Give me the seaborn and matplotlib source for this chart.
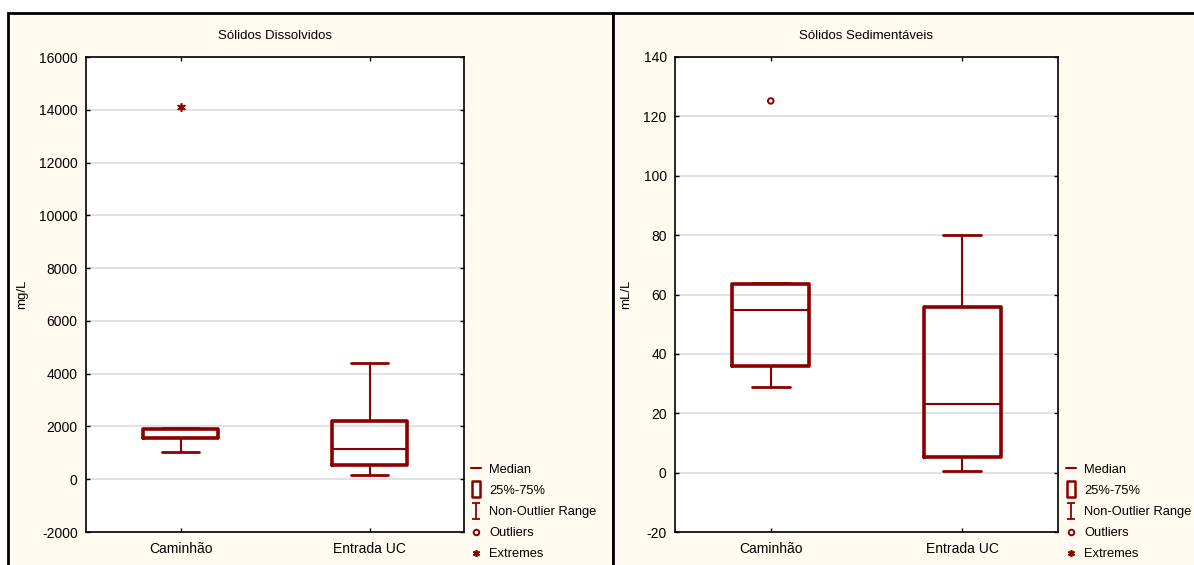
import matplotlib
matplotlib.use("Agg")
import matplotlib.pyplot as plt
import seaborn as sns
from matplotlib.lines import Line2D
from matplotlib.patches import Rectangle
from matplotlib.path import Path

# categorias e estatisticas
grupos = ["Caminhão", "Entrada UC"]

# Sólidos Dissolvidos (mg/L)
sd_min = [1020, 150]
sd_q1 = [1560, 550]
sd_med = [1560, 1130]
sd_q3 = [1900, 2200]
sd_max = [1950, 4400]
sd_extremos = [14100, None]
sd_outliers = [None, None]

# Sólidos Sedimentáveis (mL/L)
ss_min = [28.9, 0.7]
ss_q1 = [35.9, 5.2]
ss_med = [54.9, 23.0]
ss_q3 = [63.6, 55.7]
ss_max = [64.0, 80.0]
ss_extremos = [None, None]
ss_outliers = [125.2, None]

COR = "#8B0000"

sns.set_style("white")
plt.rcParams["font.family"] = ["Liberation Sans", "DejaVu Sans"]
plt.rcParams["axes.unicode_minus"] = False
plt.rcParams["text.color"] = "black"
plt.rcParams["axes.labelcolor"] = "black"
plt.rcParams["xtick.color"] = "black"
plt.rcParams["ytick.color"] = "black"

i_path = Path([(-0.5, -1), (0.5, -1), (0, -1), (0, 1), (-0.5, 1), (0.5, 1)],
              [Path.MOVETO, Path.LINETO, Path.MOVETO, Path.LINETO, Path.MOVETO, Path.LINETO])
box_path = Path([(-0.55, -1), (0.55, -1), (0.55, 1), (-0.55, 1), (-0.55, -1)],
                [Path.MOVETO, Path.LINETO, Path.LINETO, Path.LINETO, Path.CLOSEPOLY])


def painel(ax, titulo, ylabel, mins, q1s, meds, q3s, maxs, outl, extr, ylim, yticks):
    stats = []
    for i, g in enumerate(grupos):
        stats.append(dict(label=g, whislo=mins[i], q1=q1s[i], med=meds[i],
                          q3=q3s[i], whishi=maxs[i], fliers=[]))
    ax.bxp(stats, positions=[0, 1], widths=0.4, showfliers=False,
           boxprops=dict(color=COR, linewidth=2.6),
           medianprops=dict(color=COR, linewidth=1.5),
           whiskerprops=dict(color=COR, linewidth=1.5),
           capprops=dict(color=COR, linewidth=2.0),
           capwidths=0.2)
    ox = [i for i, v in enumerate(outl) if v is not None]
    oy = [v for v in outl if v is not None]
    if ox:
        sns.scatterplot(x=ox, y=oy, ax=ax, marker="o", s=16, facecolor="none",
                        edgecolor=COR, linewidth=1.4, zorder=5)
    ex = [i for i, v in enumerate(extr) if v is not None]
    ey = [v for v in extr if v is not None]
    if ex:
        sns.scatterplot(x=ex, y=ey, ax=ax, marker=(6, 2, 0), s=28,
                        color=COR, linewidth=1.2, zorder=5)
    ax.set_xlim(-0.5, 1.5)
    ax.set_ylim(*ylim)
    ax.set_yticks(yticks)
    ax.set_xticks([0, 1])
    ax.set_xticklabels(grupos, fontsize=10)
    ax.tick_params(axis="y", labelsize=10, pad=6)
    ax.tick_params(axis="x", pad=7)
    ax.tick_params(direction="in", length=3, width=1, top=True, right=True,
                   left=True, bottom=True, color="black")
    ax.yaxis.grid(True, color="#dddddd", linewidth=1.2)
    ax.set_axisbelow(True)
    for s in ax.spines.values():
        s.set_color("black")
        s.set_linewidth(1.2)
    ax.set_title(titulo, fontsize=9.5, pad=13)
    ax.set_ylabel(ylabel, fontsize=9.5, labelpad=8)
    ax.set_facecolor("white")

    handles = [
        Line2D([], [], color=COR, linewidth=1.5),
        Line2D([], [], linestyle="none", marker=box_path, markersize=11,
               markerfacecolor="none", markeredgecolor=COR, markeredgewidth=1.8),
        Line2D([], [], linestyle="none", marker=i_path, markersize=11,
               markerfacecolor="none", markeredgecolor=COR, markeredgewidth=1.3),
        Line2D([], [], linestyle="none", marker="o", markersize=4,
               markerfacecolor="none", markeredgecolor=COR, markeredgewidth=1.4),
        Line2D([], [], linestyle="none", marker=(6, 2, 0), markersize=5,
               color=COR, markeredgewidth=1.2),
    ]
    labels = ["Median", "25%-75%", "Non-Outlier Range", "Outliers", "Extremes"]
    return handles, labels


fig = plt.figure(figsize=(11.94, 5.65), dpi=100, facecolor="white")

# molduras dos paineis
for x0, x1 in [(8, 613), (613, 1200)]:
    r = Rectangle((x0 / 1194, -0.01), (x1 - x0) / 1194, 1 - 13 / 565 + 0.01,
                  transform=fig.transFigure, facecolor="#FFFBF0",
                  edgecolor="black", linewidth=2)
    r.set_zorder(-10)
    fig.add_artist(r)

ax1 = fig.add_axes([86 / 1194, 1 - 532 / 565, 378 / 1194, 475 / 565])
ax2 = fig.add_axes([675 / 1194, 1 - 532 / 565, 383 / 1194, 475 / 565])

leg_kw = dict(loc="lower left", frameon=False, fontsize=9.3, handlelength=0.75,
              handletextpad=0.6, labelspacing=0.7, borderpad=0)

h, l = painel(ax1, "Sólidos Dissolvidos", "mg/L", sd_min, sd_q1, sd_med, sd_q3,
              sd_max, sd_outliers, sd_extremos, (-2000, 16000),
              range(-2000, 16001, 2000))
fig.legend(h, l, bbox_to_anchor=(465 / 1194, -0.003), **leg_kw)

h, l = painel(ax2, "Sólidos Sedimentáveis", "mL/L", ss_min, ss_q1, ss_med, ss_q3,
              ss_max, ss_outliers, ss_extremos, (-20, 140),
              range(-20, 141, 20))
fig.legend(h, l, bbox_to_anchor=(1060 / 1194, -0.003), **leg_kw)

fig.savefig("out.png", dpi=100, facecolor=fig.get_facecolor())
